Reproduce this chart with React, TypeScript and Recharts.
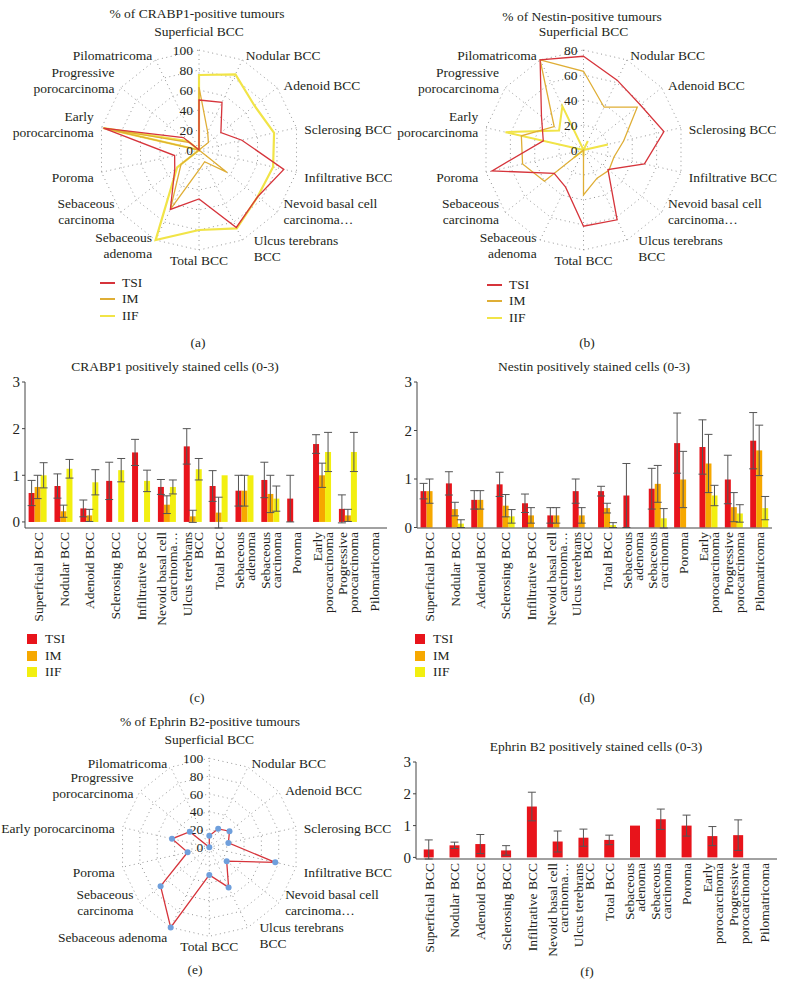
import React from 'react';
import {
    RadarChart, Radar, PolarGrid, PolarAngleAxis, PolarRadiusAxis,
    BarChart, Bar, XAxis, YAxis, ErrorBar
} from 'recharts';

const FONT = '"Liberation Serif", "DejaVu Serif", serif';
const INK = '#231f20';

const categories = [
    'Superficial BCC', 'Nodular BCC', 'Adenoid BCC', 'Sclerosing BCC', 'Infiltrative BCC',
    'Nevoid basal cell carcinoma…', 'Ulcus terebrans BCC', 'Total BCC', 'Sebaceous adenoma',
    'Sebaceous carcinoma', 'Poroma', 'Early porocarcinoma', 'Progressive porocarcinoma', 'Pilomatricoma'
];

// wrapped label lines
const wrappedLabels = [
    ['Superficial BCC'], ['Nodular BCC'], ['Adenoid BCC'], ['Sclerosing BCC'], ['Infiltrative BCC'],
    ['Nevoid basal cell', 'carcinoma…'], ['Ulcus terebrans', 'BCC'], ['Total BCC'], ['Sebaceous', 'adenoma'],
    ['Sebaceous', 'carcinoma'], ['Poroma'], ['Early', 'porocarcinoma'], ['Progressive', 'porocarcinoma'], ['Pilomatricoma']
];
const ephrinRadarLabels = [
    ['Superficial BCC'], ['Nodular BCC'], ['Adenoid BCC'], ['Sclerosing BCC'], ['Infiltrative BCC'],
    ['Nevoid basal cell', 'carcinoma…'], ['Ulcus terebrans', 'BCC'], ['Total BCC'], ['Sebaceous adenoma'],
    ['Sebaceous', 'carcinoma'], ['Poroma'], ['Early porocarcinoma'], ['Progressive', 'porocarcinoma'], ['Pilomatricoma']
];

// (a) % of CRABP1-positive tumours
const crabpRadarTsi = [50, 53, 28, 44, 87, 75, 86, 49, 66, 31, 25, 98, 20, 0];
const crabpRadarIm = [63, 20, 12, 0, 0, 36, 13, 20, 66, 23, 0, 98, 12, 0];
const crabpRadarIif = [75, 84, 71, 77, 76, 75, 87, 80, 100, 28, 0, 98, 14, 0];

// (b) % of Nestin-positive tumours
const nestinRadarTsi = [75, 62, 58, 66, 50, 25, 62, 61, 33, 30, 75, 33, 43, 80];
const nestinRadarIm = [63, 38, 55, 33, 25, 26, 25, 36, 0, 40, 50, 51, 30, 80];
const nestinRadarIif = [0, 8, 0, 20, 0, 0, 0, 5, 0, 10, 0, 64, 25, 39];

// (e) % of Ephrin B2-positive tumours
const ephrinRadarTsi = [13, 23, 29, 22, 76, 25, 50, 31, 100, 70, 25, 43, 28, 0];

// (c) CRABP1 positively stained cells
const crabpTsi = [0.62, 0.77, 0.29, 0.88, 1.49, 0.75, 1.62, 0.77, 0.67, 0.9, 0.5, 1.67, 0.28, 0];
const crabpTsiErr = [0.27, 0.26, 0.18, 0.4, 0.28, 0.16, 0.38, 0.33, 0.33, 0.38, 0.5, 0.2, 0.3, 0];
const crabpIm = [0.75, 0.23, 0.14, 0, 0, 0.37, 0.12, 0.2, 0.67, 0.6, 0, 1.0, 0.14, 0];
const crabpImErr = [0.25, 0.13, 0.13, 0, 0, 0.19, 0.13, 0.33, 0.33, 0.4, 0, 0.26, 0.13, 0];
const crabpIif = [1.0, 1.14, 0.85, 1.11, 0.88, 0.75, 1.13, 1.0, 1.0, 0.5, 0, 1.5, 1.5, 0];
const crabpIifErr = [0.27, 0.2, 0.27, 0.25, 0.23, 0.15, 0.23, 0, 0, 0.27, 0, 0.42, 0.42, 0];

// (d) Nestin positively stained cells
const nestinTsi = [0.75, 0.91, 0.57, 0.89, 0.5, 0.25, 0.75, 0.75, 0.66, 0.8, 1.74, 1.66, 0.99, 1.79];
const nestinTsiErr = [0.16, 0.24, 0.19, 0.25, 0.19, 0.16, 0.25, 0.1, 0.66, 0.42, 0.62, 0.56, 0.5, 0.58];
const nestinIm = [0.75, 0.38, 0.57, 0.45, 0.25, 0.25, 0.25, 0.4, 0, 0.9, 0.99, 1.32, 0.42, 1.59];
const nestinImErr = [0.25, 0.14, 0.19, 0.23, 0.16, 0.16, 0.16, 0.1, 0, 0.38, 0.58, 0.6, 0.3, 0.52];
const nestinIif = [0, 0.08, 0, 0.23, 0, 0, 0, 0.05, 0, 0.19, 0, 0.66, 0.29, 0.4];
const nestinIifErr = [0, 0.08, 0, 0.14, 0, 0, 0, 0.05, 0, 0.2, 0, 0.21, 0.18, 0.24];

// (f) Ephrin B2 positively stained cells
const ephrinTsi = [0.25, 0.38, 0.42, 0.22, 1.6, 0.5, 0.62, 0.55, 1.0, 1.2, 1.0, 0.67, 0.7, 0];
const ephrinTsiErr = [0.3, 0.1, 0.3, 0.15, 0.45, 0.33, 0.27, 0.15, 0, 0.32, 0.33, 0.3, 0.48, 0];

const RED_LINE = '#d6343b';
const IM_LINE = '#dfae35';
const IIF_LINE = '#f1e447';
const RED_BAR = '#e8141b';
const IM_BAR = '#f6a800';
const IIF_BAR = '#f2ef10';

const rows = (series: Record<string, number[]>) =>
    categories.map((name, i) => {
        const row: any = { name };
        Object.keys(series).forEach(k => { row[k] = series[k][i]; });
        return row;
    });

const crabpRadarRows = rows({ tsi: crabpRadarTsi, im: crabpRadarIm, iif: crabpRadarIif });
const nestinRadarRows = rows({ tsi: nestinRadarTsi, im: nestinRadarIm, iif: nestinRadarIif });
const ephrinRadarRows = rows({ tsi: ephrinRadarTsi });
const crabpRows = rows({ tsi: crabpTsi, tsiErr: crabpTsiErr, im: crabpIm, imErr: crabpImErr, iif: crabpIif, iifErr: crabpIifErr });
const nestinRows = rows({ tsi: nestinTsi, tsiErr: nestinTsiErr, im: nestinIm, imErr: nestinImErr, iif: nestinIif, iifErr: nestinIifErr });
const ephrinRows = rows({ tsi: ephrinTsi, tsiErr: ephrinTsiErr });

const FS = 13.5;
const LH = 16;

// category labels round the radar, placed roughly like Excel does
const makeAngleTick = (lines: string[][]) => (props: any) => {
    const { index } = props;
    let { x, y } = props;
    const a = (index * 2 * Math.PI) / categories.length;
    const s = Math.sin(a);
    const c = Math.cos(a);
    const ls = lines[index] || [String(props.payload?.value)];
    const n = ls.length;
    const h = n * LH;
    let anchor = 'middle';
    if (s > 0.1) anchor = 'start';
    else if (s < -0.1) anchor = 'end';
    let mid;
    if (Math.abs(s) <= 0.1) mid = c > 0 ? y - 3 - h / 2 : y - 6 + h / 2;
    else {
        mid = y + 3 - (n - 1) * 5;
        if (n > 1 && c < 0 && Math.abs(c) < 0.75) mid -= 4;
        if (s > 0.1 && c < -0.8) { x += 8; mid += 3; }
    }
    const first = mid - ((n - 1) * LH) / 2;
    return (
        <text textAnchor={anchor} fill={INK} fontSize={FS} fontFamily={FONT}>
            {ls.map((l, k) => (
                <tspan key={k} x={x} y={first + k * LH} dy="0.35em">{l}</tspan>
            ))}
        </text>
    );
};

const radiusTick = (props: any) => {
    const { x, y, payload } = props;
    return (
        <text x={x - 6} y={y} dy="0.35em" textAnchor="end" fill={INK} fontSize={FS} fontFamily={FONT}>
            {payload.value}
        </text>
    );
};

// rotated category labels under the bars
const barTick = (props: any) => {
    const { x, y, index } = props;
    const ls = wrappedLabels[index];
    const off = ((ls.length - 1) * 11) / 2;
    return (
        <text transform={`translate(${x},${y - 4}) rotate(-90)`} textAnchor="end" fill={INK} fontSize={FS} fontFamily={FONT}>
            {ls.map((l, k) => (
                <tspan key={k} x={0} y={-off + k * 11} dy="0.35em">{l}</tspan>
            ))}
        </text>
    );
};

const Label = ({ x, y, children }: { x: number; y: number; children: React.ReactNode }) => (
    <div style={{
        position: 'absolute', left: x - 200, top: y - 9, width: 400, textAlign: 'center',
        fontSize: FS, lineHeight: '18px', fontFamily: FONT, color: INK, whiteSpace: 'nowrap'
    }}>{children}</div>
);

const LineLegend = ({ x, y }: { x: number; y: number }) => (
    <div style={{ position: 'absolute', left: x, top: y, fontFamily: FONT, fontSize: FS, color: INK }}>
        {[['TSI', RED_LINE], ['IM', IM_LINE], ['IIF', IIF_LINE]].map(([t, c]) => (
            <div key={t} style={{ display: 'flex', alignItems: 'center', height: 16.3 }}>
                <span style={{ display: 'inline-block', width: 15, height: 2, background: c, marginRight: 7 }} />
                <span>{t}</span>
            </div>
        ))}
    </div>
);

const BoxLegend = ({ x, y }: { x: number; y: number }) => (
    <div style={{ position: 'absolute', left: x, top: y, fontFamily: FONT, fontSize: FS, color: INK }}>
        {[['TSI', RED_BAR], ['IM', IM_BAR], ['IIF', IIF_BAR]].map(([t, c]) => (
            <div key={t} style={{ display: 'flex', alignItems: 'center', height: 16.5 }}>
                <span style={{ display: 'inline-block', width: 10, height: 10, background: c, marginRight: 8 }} />
                <span>{t}</span>
            </div>
        ))}
    </div>
);

const gridStyle = { stroke: '#8a8a8a', strokeDasharray: '1 3.5', strokeWidth: 0.9 };
const yTick = { fill: INK, fontSize: 15, fontFamily: FONT };

const Abs = ({ x, y, children }: { x: number; y: number; children: React.ReactNode }) => (
    <div style={{ position: 'absolute', left: x, top: y }}>{children}</div>
);

export default function App() {
    return (
        <div style={{ position: 'relative', width: 785, height: 997, background: '#fff', overflow: 'hidden' }}>
            <style>{'body{margin:0}'}</style>

            {/* (a) */}
            <Label x={197} y={14}>% of CRABP1-positive tumours</Label>
            <Abs x={0} y={0}>
                <RadarChart width={392} height={300} data={crabpRadarRows} cx={199} cy={150} outerRadius={100}
                    margin={{ top: 0, right: 0, bottom: 0, left: 0 }}>
                    <PolarGrid gridType="polygon" {...gridStyle} />
                    <PolarAngleAxis dataKey="name" tick={makeAngleTick(wrappedLabels)} tickLine={false} axisLine={false} />
                    <PolarRadiusAxis angle={90} domain={[0, 100]} tickCount={6} axisLine={false} tickLine={false} tick={radiusTick} />
                    <Radar dataKey="iif" stroke={IIF_LINE} strokeWidth={2.2} fill="none" fillOpacity={0} dot={false} isAnimationActive={false} />
                    <Radar dataKey="im" stroke={IM_LINE} strokeWidth={1.3} fill="none" fillOpacity={0} dot={false} isAnimationActive={false} />
                    <Radar dataKey="tsi" stroke={RED_LINE} strokeWidth={1.3} fill="none" fillOpacity={0} dot={false} isAnimationActive={false} />
                </RadarChart>
            </Abs>
            <LineLegend x={100} y={275} />
            <Label x={198} y={343}>(a)</Label>

            {/* (b) */}
            <Label x={582} y={17}>% of Nestin-positive tumours</Label>
            <Abs x={392} y={0}>
                <RadarChart width={393} height={300} data={nestinRadarRows} cx={191.5} cy={150} outerRadius={100}
                    margin={{ top: 0, right: 0, bottom: 0, left: 0 }}>
                    <PolarGrid gridType="polygon" {...gridStyle} />
                    <PolarAngleAxis dataKey="name" tick={makeAngleTick(wrappedLabels)} tickLine={false} axisLine={false} />
                    <PolarRadiusAxis angle={90} domain={[0, 80]} tickCount={5} axisLine={false} tickLine={false} tick={radiusTick} />
                    <Radar dataKey="iif" stroke={IIF_LINE} strokeWidth={2} fill="none" fillOpacity={0} dot={false} isAnimationActive={false} />
                    <Radar dataKey="im" stroke={IM_LINE} strokeWidth={1.3} fill="none" fillOpacity={0} dot={false} isAnimationActive={false} />
                    <Radar dataKey="tsi" stroke={RED_LINE} strokeWidth={1.3} fill="none" fillOpacity={0} dot={false} isAnimationActive={false} />
                </RadarChart>
            </Abs>
            <LineLegend x={487} y={277} />
            <Label x={587} y={343}>(b)</Label>

            {/* (c) */}
            <Label x={175} y={367}>CRABP1 positively stained cells (0-3)</Label>
            <Abs x={0} y={370}>
                <BarChart width={392} height={258} data={crabpRows} margin={{ top: 12, right: 5, bottom: 0, left: 5 }}
                    barCategoryGap="14%" barGap={0}>
                    <XAxis dataKey="name" interval={0} tickLine={false} axisLine={{ stroke: '#444' }} height={100} tick={barTick} />
                    <YAxis domain={[0, 3]} ticks={[0, 1, 2, 3]} width={20} axisLine={{ stroke: '#444' }} tickLine={{ stroke: '#444' }}
                        tickSize={3} tick={yTick} />
                    <Bar dataKey="tsi" fill={RED_BAR} isAnimationActive={false}>
                        <ErrorBar dataKey="tsiErr" width={4} stroke="#555" strokeWidth={1} />
                    </Bar>
                    <Bar dataKey="im" fill={IM_BAR} isAnimationActive={false}>
                        <ErrorBar dataKey="imErr" width={4} stroke="#555" strokeWidth={1} />
                    </Bar>
                    <Bar dataKey="iif" fill={IIF_BAR} isAnimationActive={false}>
                        <ErrorBar dataKey="iifErr" width={4} stroke="#555" strokeWidth={1} />
                    </Bar>
                </BarChart>
            </Abs>
            <BoxLegend x={27} y={631} />
            <Label x={197} y={698}>(c)</Label>

            {/* (d) */}
            <Label x={594} y={367}>Nestin positively stained cells (0-3)</Label>
            <Abs x={392} y={370}>
                <BarChart width={393} height={258} data={nestinRows} margin={{ top: 12, right: 13, bottom: 0, left: 5 }}
                    barCategoryGap="14%" barGap={0}>
                    <XAxis dataKey="name" interval={0} tickLine={false} axisLine={{ stroke: '#444' }} height={100} tick={barTick} />
                    <YAxis domain={[0, 3]} ticks={[0, 1, 2, 3]} width={20} axisLine={{ stroke: '#444' }} tickLine={{ stroke: '#444' }}
                        tickSize={3} tick={yTick} />
                    <Bar dataKey="tsi" fill={RED_BAR} isAnimationActive={false}>
                        <ErrorBar dataKey="tsiErr" width={4} stroke="#555" strokeWidth={1} />
                    </Bar>
                    <Bar dataKey="im" fill={IM_BAR} isAnimationActive={false}>
                        <ErrorBar dataKey="imErr" width={4} stroke="#555" strokeWidth={1} />
                    </Bar>
                    <Bar dataKey="iif" fill={IIF_BAR} isAnimationActive={false}>
                        <ErrorBar dataKey="iifErr" width={4} stroke="#555" strokeWidth={1} />
                    </Bar>
                </BarChart>
            </Abs>
            <BoxLegend x={415} y={631} />
            <Label x={587} y={698}>(d)</Label>

            {/* (e) */}
            <Label x={210} y={722}>% of Ephrin B2-positive tumours</Label>
            <Abs x={0} y={700}>
                <RadarChart width={392} height={260} data={ephrinRadarRows} cx={209.3} cy={147.3} outerRadius={89}
                    margin={{ top: 0, right: 0, bottom: 0, left: 0 }}>
                    <PolarGrid gridType="polygon" {...gridStyle} />
                    <PolarAngleAxis dataKey="name" tick={makeAngleTick(ephrinRadarLabels)} tickLine={false} axisLine={false} />
                    <PolarRadiusAxis angle={90} domain={[0, 100]} tickCount={6} axisLine={false} tickLine={false} tick={radiusTick} />
                    <Radar dataKey="tsi" stroke={RED_LINE} strokeWidth={1.3} fill="none" fillOpacity={0}
                        dot={{ r: 3, fill: '#6f9fdc', stroke: 'none', fillOpacity: 1 }} isAnimationActive={false} />
                </RadarChart>
            </Abs>
            <Label x={195} y={970}>(e)</Label>

            {/* (f) */}
            <Label x={596} y={747}>Ephrin B2 positively stained cells (0-3)</Label>
            <Abs x={392} y={752}>
                <BarChart width={393} height={207} data={ephrinRows} margin={{ top: 10, right: 8, bottom: 0, left: 4 }}
                    barCategoryGap="30%">
                    <XAxis dataKey="name" interval={0} tickLine={false} axisLine={{ stroke: '#444' }} height={100} tick={barTick} />
                    <YAxis domain={[0, 3]} ticks={[0, 1, 2, 3]} width={20} axisLine={{ stroke: '#444' }} tickLine={{ stroke: '#444' }}
                        tickSize={3} tick={yTick} />
                    <Bar dataKey="tsi" fill={RED_BAR} isAnimationActive={false}>
                        <ErrorBar dataKey="tsiErr" width={4} stroke="#555" strokeWidth={1} />
                    </Bar>
                </BarChart>
            </Abs>
            <Label x={587} y={972}>(f)</Label>
        </div>
    );
}
